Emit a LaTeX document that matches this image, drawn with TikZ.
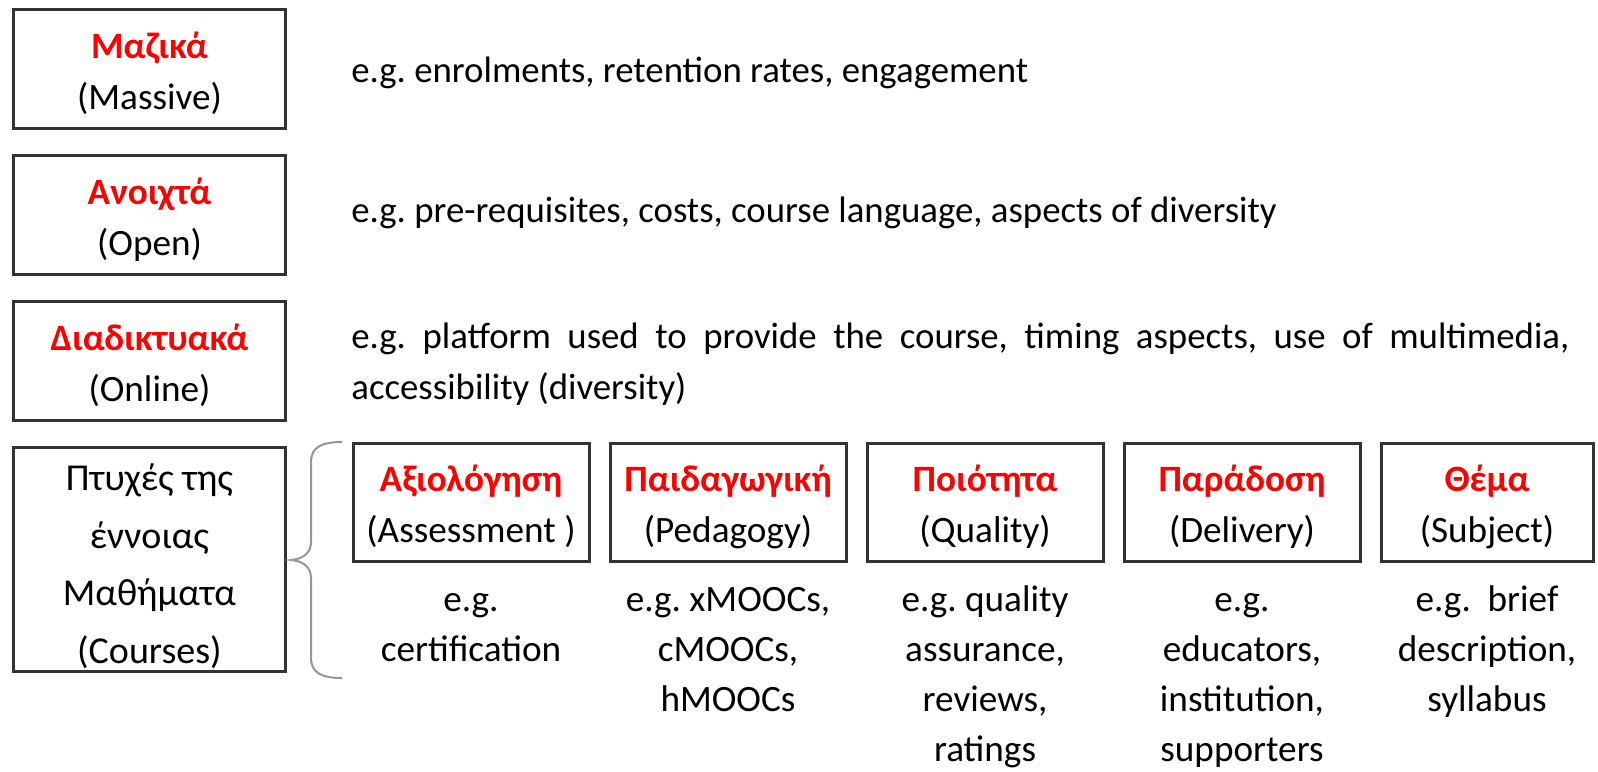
\documentclass[tikz,border=0pt]{standalone}
\usepackage{fontspec}
\setmainfont{Carlito}
\usetikzlibrary{positioning}
\frenchspacing
\definecolor{greekred}{RGB}{255,0,0}
\definecolor{boxline}{RGB}{51,51,51}
\definecolor{bracegray}{RGB}{150,150,150}
\newcommand{\redgr}[1]{\strut\textcolor{greekred}{\textbf{#1}}}
\tikzset{%
  % Specifications for style of nodes:
     base/.style = {draw=boxline, line width=1.5pt, align=center, inner sep=0pt},
  mainbox/.style = {base, minimum width=136pt, minimum height=59.5pt},
   subbox/.style = {base, minimum width=118pt, minimum height=59pt},
     desc/.style = {align=center, inner sep=0pt, font=\fontsize{18.6}{25}\selectfont},
     note/.style = {align=left, inner sep=0pt, font=\fontsize{18.4}{25.5}\selectfont},
}
\begin{document}
\begin{tikzpicture}[x=0.5pt, y=-0.5pt, node distance=12pt,
    font=\fontsize{18.6}{25.5}\selectfont]
  \useasboundingbox (0,0) rectangle (1598,771);
  % Left column: the letters of MOOC
  \node (massive) [mainbox] at (149.5,69) {\redgr{Μαζικά}\\(Massive)};
  \node (open)    [mainbox, below=of massive] {\redgr{Ανοιχτά}\\(Open)};
  \node (online)  [mainbox, below=of open]    {\redgr{Διαδικτυακά}\\(Online)};
  \node (courses) [mainbox, below=of online, minimum height=112pt,
                   font=\fontsize{19}{28.8}\selectfont]
                  {\strut Πτυχές της\\έννοιας\\Μαθήματα\\(Courses)};
  % Examples next to the first three boxes
  \node (massivenote) [note, right=32pt of massive, yshift=-1.5pt]
        {\strut e.g. enrolments, retention rates, engagement};
  \node (opennote)    [note, right=32pt of open, yshift=1.5pt]
        {\strut e.g. pre-requisites, costs, course language, aspects of diversity};
  \node (onlinenote)  [note, right=32pt of online, yshift=1pt]
        {\strut\makebox[609pt][s]{e.g. platform used to provide the course, timing aspects, use of multimedia,}\\accessibility (diversity)};
  % Aspects of the courses
  \node (ass)   [subbox] at (471,502)        {\redgr{Αξιολόγηση}\\(Assessment )};
  \node (ped)   [subbox, right=9pt of ass]   {\redgr{Παιδαγωγική}\\(Pedagogy)};
  \node (qual)  [subbox, right=9pt of ped]   {\redgr{Ποιότητα}\\(Quality)};
  \node (deliv) [subbox, right=9pt of qual]  {\redgr{Παράδοση}\\(Delivery)};
  \node (subj)  [subbox, right=9pt of deliv, minimum width=106pt]
                {\redgr{Θέμα}\\(Subject)};
  % Examples under each aspect
  \node (assdesc)   [desc, below=7pt of ass]   {\strut e.g.\\certification};
  \node (peddesc)   [desc, below=7pt of ped]   {\strut e.g. xMOOCs,\\cMOOCs,\\hMOOCs};
  \node (qualdesc)  [desc, below=7pt of qual]  {\strut e.g. quality\\assurance,\\reviews,\\ratings};
  \node (delivdesc) [desc, below=7pt of deliv] {\strut e.g.\\educators,\\institution,\\supporters};
  \node (subjdesc)  [desc, below=7pt of subj]  {\strut e.g.~ brief\\description,\\syllabus};
  % Brace from the courses box to the aspects
  \draw[bracegray, line width=1pt] (342,442)
    .. controls (322,442) and (311,447) .. (311,462) -- (311,542)
    .. controls (311,553) and (303,559) .. (291,560)
    .. controls (303,561) and (311,567) .. (311,578) -- (311,658)
    .. controls (311,673) and (322,678) .. (342,678);
\end{tikzpicture}
\end{document}
